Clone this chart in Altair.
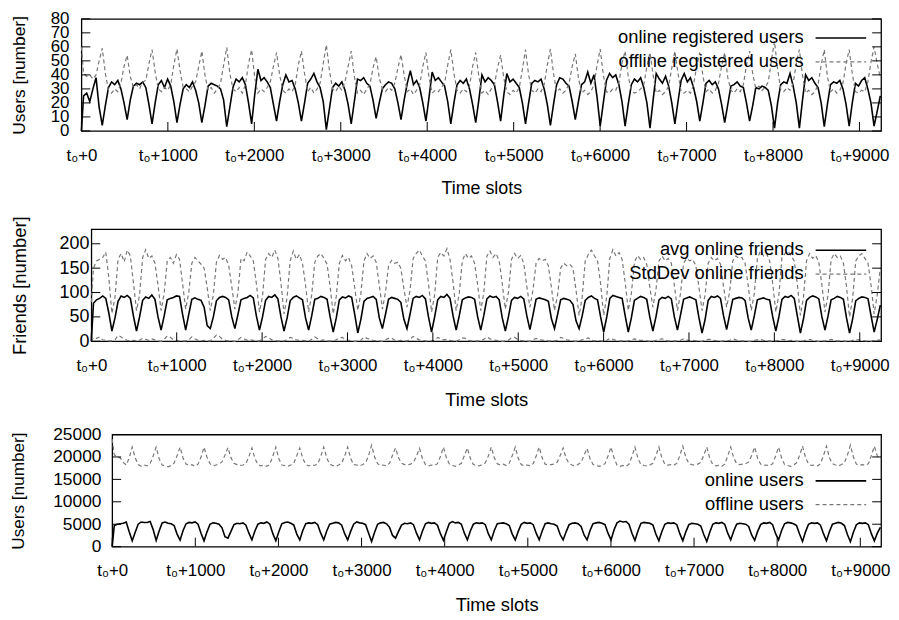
import altair as alt
import pandas as pd

FONT = "Liberation Sans, Arial, Helvetica, sans-serif"

# sampling grid of the time axis (time slots)
T = [0] + [25 + 36 * j for j in range(257)]

XTICKS = [0, 1000, 2000, 3000, 4000, 5000, 6000, 7000, 8000, 9000]

# ---------------- panel 1: registered users ----------------
P1_NAMES = ["online registered users", "offline registered users"]
P1_ONLINE = [
    0, 25, 27, 21, 30, 38, 17,
    4, 18, 31, 35, 33, 36, 30, 20,
    8, 22, 32, 34, 33, 35, 31, 19,
    5, 20, 33, 36, 31, 37, 32, 21,
    6, 19, 30, 33, 31, 35, 29, 20,
    6, 18, 32, 34, 33, 32, 30, 22,
    3, 17, 31, 37, 35, 38, 33, 20,
    5, 26, 44, 36, 38, 35, 31, 19,
    7, 21, 33, 40, 35, 36, 30, 20,
    7, 20, 34, 37, 41, 35, 31, 21,
    1, 16, 31, 34, 32, 35, 29, 19,
    5, 21, 37, 36, 38, 34, 32, 22,
    9, 20, 30, 33, 35, 34, 30, 20,
    8, 22, 34, 43, 33, 36, 31, 20,
    7, 24, 42, 36, 38, 35, 32, 21,
    5, 20, 33, 36, 34, 37, 30, 19,
    6, 22, 40, 35, 38, 36, 33, 21,
    7, 25, 41, 35, 37, 34, 31, 20,
    5, 20, 34, 36, 35, 37, 30, 19,
    4, 19, 33, 38, 37, 34, 32, 21,
    8, 21, 33, 35, 42, 34, 40, 24,
    3.5, 20, 36, 41, 38, 40, 33, 21,
    3.5, 19, 33, 37, 35, 38, 31, 20,
    2, 22, 41, 37, 34, 39, 32, 20,
    5, 21, 36, 41, 35, 38, 31, 21,
    7, 20, 34, 36, 33, 35, 30, 19,
    6, 19, 32, 33, 35, 32, 31, 20,
    7, 18, 31, 30, 32, 31, 29, 18,
    2, 20, 33, 35, 34, 41, 32, 20,
    2, 22, 40, 36, 38, 34, 31, 20,
    3, 19, 33, 35, 34, 36, 30, 19,
    3.5, 20, 34, 32, 36, 38, 30, 20,
    3.5, 14, 25,
]
P1_OFFLINE = [
    60, 41, 39, 40, 37, 40, 50,
    59, 41, 29, 27, 30, 28, 34, 46,
    54, 39, 31, 33, 30, 35, 36, 48,
    58, 42, 30, 28, 31, 29, 33, 47,
    58.5, 43, 31, 30, 28, 32, 35, 46,
    57, 40, 29, 31, 27, 30, 34, 47,
    59.6, 41, 30, 28, 31, 27, 33, 48,
    58, 38, 27, 30, 28, 31, 35, 46,
    56, 40, 29, 27, 30, 28, 33, 47,
    57, 41, 28, 31, 27, 30, 34, 48,
    61.5, 43, 30, 28, 32, 29, 35, 46,
    57, 39, 27, 29, 26, 30, 33, 45,
    53, 38, 30, 28, 31, 29, 34, 45,
    54.5, 40, 28, 30, 26, 29, 33, 46,
    56, 38, 27, 29, 28, 31, 34, 47,
    58, 41, 29, 27, 30, 28, 32, 46,
    56, 39, 27, 29, 26, 30, 33, 45,
    54, 38, 28, 26, 29, 27, 31, 44,
    58, 40, 29, 27, 30, 28, 33, 47,
    58.5, 41, 28, 30, 27, 29, 34, 46,
    55, 38, 27, 29, 26, 28, 33, 47,
    58.5, 40, 28, 27, 30, 29, 34, 48,
    57, 39, 29, 27, 28, 30, 33, 46,
    56, 40, 27, 29, 26, 28, 32, 45,
    57, 41, 28, 27, 29, 27, 33, 46,
    56, 39, 28, 30, 27, 29, 34, 46,
    56, 38, 29, 27, 30, 28, 33, 47,
    57, 41, 30, 32, 29, 31, 35, 50,
    64, 44, 30, 28, 31, 29, 34, 48,
    58, 40, 27, 29, 26, 28, 33, 47,
    58, 39, 28, 30, 27, 29, 34, 48,
    58, 41, 28, 27, 29, 28, 35, 49,
    60, 48, 38,
]
P1_YTICKS = [0, 10, 20, 30, 40, 50, 60, 70, 80]

# ---------------- panel 2: friends ----------------
P2_NAMES = ["avg online friends", "StdDev online friends"]
P2_AVG = [
    0, 78, 85, 88, 93, 88, 58,
    21, 48, 82, 93, 90, 94, 88, 52,
    21, 50, 84, 91, 88, 95, 86, 50,
    23, 52, 85, 88, 90, 93, 92, 55,
    23, 55, 86, 89, 86, 84, 70, 32,
    26, 50, 83, 90, 92, 90, 85, 50,
    26, 55, 85, 88, 90, 94, 89, 52,
    23, 50, 84, 92, 90, 95, 87, 50,
    21, 48, 83, 90, 93, 89, 85, 48,
    23, 52, 86, 88, 92, 90, 86, 50,
    19, 48, 85, 91, 89, 93, 90, 55,
    17, 45, 82, 88, 90, 92, 86, 48,
    26, 55, 86, 90, 88, 86, 80, 45,
    26, 56, 88, 92, 90, 94, 87, 50,
    19, 50, 85, 92, 90, 96, 88, 52,
    23, 52, 85, 89, 91, 90, 86, 50,
    23, 53, 87, 93, 90, 92, 85, 48,
    21, 50, 84, 90, 88, 92, 87, 52,
    24, 54, 86, 89, 87, 85, 82, 46,
    26, 55, 85, 88, 86, 84, 76, 42,
    26, 52, 84, 90, 93, 88, 85, 50,
    19, 50, 88, 94, 92, 90, 88, 52,
    19, 48, 84, 88, 92, 90, 86, 50,
    21, 50, 85, 90, 88, 92, 87, 50,
    23, 54, 86, 89, 91, 88, 85, 48,
    17, 45, 84, 92, 90, 93, 88, 52,
    24, 55, 86, 88, 90, 89, 84, 48,
    23, 52, 85, 87, 89, 86, 85, 50,
    21, 50, 86, 92, 90, 94, 88, 52,
    17, 46, 84, 90, 93, 91, 87, 50,
    23, 52, 85, 88, 92, 90, 86, 48,
    17, 46, 83, 88, 91, 90, 87, 52,
    19, 45, 74,
]
P2_STD = [
    80, 150, 165, 168, 172, 183, 130,
    57, 90, 168, 180, 163, 187, 175, 120,
    63, 95, 172, 188, 170, 175, 160, 115,
    63, 98, 165, 172, 160, 178, 168, 118,
    66, 100, 160, 172, 165, 158, 150, 110,
    63, 95, 162, 176, 168, 172, 155, 112,
    66, 100, 170, 165, 183, 175, 165, 118,
    60, 92, 168, 180, 172, 187, 170, 120,
    56, 90, 165, 185, 168, 178, 160, 115,
    60, 95, 162, 175, 180, 170, 158, 112,
    56, 92, 160, 176, 165, 172, 155, 110,
    63, 98, 165, 180, 170, 175, 162, 115,
    66, 100, 155, 166, 160, 162, 150, 108,
    70, 105, 170, 180, 187, 175, 165, 118,
    60, 95, 172, 182, 175, 190, 168, 120,
    63, 98, 165, 180, 170, 175, 160, 115,
    63, 100, 175, 185, 172, 180, 165, 118,
    66, 100, 168, 180, 170, 176, 160, 112,
    70, 105, 160, 170, 165, 168, 155, 110,
    63, 95, 150, 160, 155, 158, 150, 105,
    53, 90, 165, 178, 187, 175, 165, 118,
    53, 92, 170, 188, 175, 182, 168, 120,
    63, 98, 162, 176, 168, 172, 158, 112,
    70, 105, 165, 175, 165, 170, 160, 115,
    63, 98, 160, 170, 165, 168, 155, 110,
    63, 95, 160, 172, 165, 170, 158, 112,
    70, 102, 165, 175, 170, 172, 160, 115,
    63, 98, 170, 185, 175, 180, 165, 118,
    60, 95, 172, 180, 185, 175, 165, 118,
    53, 90, 165, 180, 170, 176, 162, 115,
    60, 95, 168, 180, 172, 175, 160, 112,
    50, 88, 165, 175, 180, 170, 160, 115,
    56, 95, 150,
]
P2_LOW = [
    0, 8, 6, 9, 3, 2, 1,
    1, 3, 12, 9, 4, 2, 1, 2,
    1, 2, 6, 4, 2, 5, 3, 1,
    0, 4, 11, 8, 3, 2, 1, 1,
    1, 3, 9, 5, 2, 1, 2, 1,
    1, 5, 13, 10, 4, 2, 1, 1,
    0, 3, 8, 5, 2, 3, 2, 1,
    1, 4, 10, 7, 3, 2, 1, 1,
    1, 3, 8, 6, 3, 2, 2, 1,
    0, 4, 9, 5, 2, 3, 1, 1,
    1, 3, 7, 8, 3, 2, 1, 0,
    1, 2, 9, 6, 4, 2, 1, 1,
    0, 3, 6, 7, 2, 1, 2, 1,
    1, 4, 10, 6, 3, 2, 1, 0,
    1, 2, 8, 5, 3, 4, 2, 1,
    0, 3, 7, 6, 2, 1, 1, 1,
    1, 4, 9, 5, 3, 2, 1, 0,
    1, 2, 7, 8, 4, 2, 1, 1,
    0, 3, 6, 4, 2, 3, 1, 1,
    1, 2, 8, 6, 3, 2, 1, 0,
    1, 3, 5, 7, 2, 1, 2, 1,
    0, 2, 6, 4, 2, 1, 1, 0,
    1, 3, 5, 3, 2, 2, 1, 0,
    0, 2, 4, 5, 2, 1, 1, 1,
    1, 2, 5, 3, 1, 2, 1, 0,
    0, 3, 4, 4, 2, 1, 0, 1,
    1, 2, 5, 3, 2, 1, 1, 0,
    0, 2, 3, 4, 2, 1, 1, 0,
    1, 2, 4, 3, 1, 2, 1, 0,
    0, 1, 3, 4, 2, 1, 0, 1,
    1, 2, 4, 2, 1, 1, 1, 0,
    0, 2, 3, 3, 2, 1, 0, 0,
    1, 2, 3,
]
P2_YTICKS = [0, 50, 100, 150, 200]

# ---------------- panel 3: all users ----------------
P3_NAMES = ["online users", "offline users"]
P3_ONLINE = [
    0, 4700, 5000, 5100, 5200, 5500, 3300,
    1300, 3200, 5000, 5500, 5400, 5400, 5600, 3800,
    1400, 3500, 5300, 5500, 5200, 5100, 4700, 2800,
    1450, 3600, 5100, 5400, 5300, 5500, 5000, 3000,
    1300, 3300, 5000, 5300, 5200, 5000, 4200, 2200,
    1900, 3400, 4900, 5200, 5100, 5300, 4800, 3000,
    1500, 3500, 5000, 5300, 5200, 5500, 5000, 2900,
    1300, 3300, 5100, 5400, 5500, 5200, 4800, 2800,
    1500, 3600, 5100, 5300, 5200, 5400, 4900, 3000,
    1500, 3500, 5000, 5200, 5400, 5300, 4800, 2900,
    1500, 3400, 5000, 5500, 5300, 5200, 4900, 3000,
    1150, 3200, 5000, 5300, 5400, 5100, 4300, 2500,
    1900, 3400, 4800, 5200, 5100, 5300, 4900, 3000,
    1500, 3500, 5100, 5400, 5200, 5300, 4800, 2900,
    1400, 3400, 5200, 5600, 5300, 5400, 5000, 3000,
    1500, 3500, 5000, 5300, 5200, 5300, 4900, 2900,
    1500, 3600, 5100, 5200, 5300, 5100, 4700, 2800,
    1500, 3400, 5000, 5400, 5200, 5300, 4900, 3000,
    1500, 3500, 5100, 5300, 5100, 5000, 4600, 2700,
    1500, 3300, 4900, 5200, 5300, 5100, 4500, 2600,
    1500, 3600, 5100, 5300, 5400, 5200, 4900, 3000,
    1500, 3700, 5300, 5700, 5500, 5600, 5000, 3000,
    1400, 3500, 5200, 5400, 5300, 5200, 4800, 2800,
    1300, 3400, 5000, 5300, 5200, 5300, 4900, 2900,
    1300, 3300, 4900, 5200, 5100, 5000, 4600, 2700,
    1150, 3200, 5000, 5300, 5200, 5400, 5000, 3000,
    1500, 3500, 5000, 5200, 5100, 5000, 4500, 2600,
    1400, 3400, 4900, 5300, 5200, 5400, 4900, 2900,
    1500, 3600, 5100, 5400, 5300, 5100, 4700, 2800,
    1150, 3300, 5000, 5300, 5200, 5300, 4800, 2900,
    1300, 3400, 5000, 5200, 5400, 5200, 4700, 2700,
    1100, 3200, 4900, 5300, 5200, 5300, 4900, 2900,
    1300, 3000, 4300,
]
P3_OFFLINE = [
    24000, 20500, 20000, 19800, 18800, 18200, 19800,
    22200, 19800, 18300, 17900, 18200, 18000, 18500, 20200,
    22200, 19600, 18200, 18000, 17800, 18100, 18600, 20300,
    22200, 19700, 18400, 18100, 18300, 17900, 18400, 20000,
    22200, 19900, 18500, 18000, 18200, 18400, 18900, 20400,
    22100, 19800, 18600, 18300, 18100, 18200, 18500, 20100,
    22000, 19700, 18300, 18000, 18200, 17900, 18400, 20200,
    22200, 19600, 18200, 18100, 17900, 18200, 18600, 20300,
    22000, 19700, 18300, 18000, 18300, 18100, 18500, 20100,
    22200, 19800, 18400, 18100, 17900, 18200, 18600, 20200,
    22200, 19700, 18300, 18200, 18000, 18300, 18700, 20300,
    22600, 20000, 18500, 18100, 18200, 18000, 18600, 20400,
    22000, 19800, 18600, 18300, 18200, 18400, 18800, 20200,
    21900, 19600, 18300, 18000, 18200, 18100, 18500, 20100,
    22200, 19800, 18400, 18100, 17900, 18200, 18600, 20300,
    22000, 19700, 18300, 18200, 18000, 18300, 18700, 20200,
    22200, 19800, 18500, 18200, 18400, 18100, 18600, 20300,
    22200, 19700, 18300, 18000, 18200, 18000, 18500, 20200,
    22200, 19800, 18400, 18200, 18300, 18400, 18800, 20300,
    22000, 19700, 18500, 18200, 18000, 18300, 18800, 20400,
    21900, 19600, 18300, 18100, 17900, 18100, 18500, 20200,
    22200, 19800, 18200, 17900, 18100, 17900, 18400, 20100,
    22200, 19700, 18300, 18100, 18000, 18200, 18600, 20300,
    22200, 19800, 18400, 18200, 18300, 18100, 18600, 20300,
    22400, 19900, 18500, 18300, 18200, 18400, 18800, 20400,
    22200, 19700, 18300, 18000, 18100, 17900, 18400, 20200,
    22200, 19800, 18500, 18300, 18400, 18500, 18900, 20300,
    22200, 19700, 18400, 18100, 18200, 18000, 18500, 20200,
    22200, 19800, 18300, 18100, 17900, 18200, 18700, 20300,
    22400, 19900, 18400, 18100, 18200, 18000, 18500, 20300,
    22400, 19800, 18500, 18200, 18000, 18300, 18700, 20400,
    22600, 20000, 18400, 18100, 18300, 18100, 18500, 20300,
    22400, 20200, 19500,
]
P3_YTICKS = [0, 5000, 10000, 15000, 20000, 25000]

SOLID = {"color": "black", "strokeWidth": 1.6}
DASHED = {"color": "#777777", "strokeWidth": 1.2, "strokeDash": [4, 3]}
XMAX = 9250
H = 113


def make_panel(series, styles, legend_names, ytitle, ymax, yticks, W,
               ylab_size, ylab_pad, y_extent, ytitle_pad, ytitle_size,
               xtitle_size, legend_right, legend_base):
    df = pd.DataFrame({"t": T})
    for i, s in enumerate(series):
        df[f"s{i}"] = s
    xs = alt.Scale(domain=[0, XMAX], nice=False, zero=False)
    ys = alt.Scale(domain=[0, ymax], nice=False)
    xaxis = alt.Axis(values=XTICKS, labelExpr="'t\u2080+' + datum.value",
                     labelFontSize=17, labelPadding=16.5, minExtent=34, maxExtent=34,
                     titlePadding=15.5, titleFontSize=xtitle_size)
    yaxis = alt.Axis(values=yticks, format="d", labelFontSize=ylab_size,
                     labelPadding=ylab_pad, minExtent=y_extent, maxExtent=y_extent,
                     titlePadding=ytitle_pad, titleFontSize=ytitle_size)
    X = dict(scale=xs, axis=xaxis, title="Time slots")
    Y = dict(scale=ys, axis=yaxis, title=ytitle)
    layers = []
    for i, st in enumerate(styles):
        layers.append(
            alt.Chart(df).mark_line(**st).encode(
                x=alt.X("t:Q", **X), y=alt.Y(f"s{i}:Q", **Y))
        )
    xt = pd.DataFrame({"tick": XTICKS})
    layers.append(
        alt.Chart(xt).mark_rule(color="black", strokeWidth=1).encode(
            x=alt.X("tick:Q", **X), y=alt.value(H), y2=alt.value(H - 9))
    )
    yt = pd.DataFrame({"tick": yticks})
    for x1, x2 in [(0, 9), (W - 9, W)]:
        layers.append(
            alt.Chart(yt).mark_rule(color="black", strokeWidth=1).encode(
                y=alt.Y("tick:Q", **Y), x=alt.value(x1), x2=alt.value(x2))
        )
    for k, name in enumerate(legend_names):
        st = styles[k]
        base = legend_base + 24 * k
        ld = pd.DataFrame({"label": [name]})
        layers.append(
            alt.Chart(ld).mark_text(align="right", baseline="alphabetic", font=FONT,
                                    fontSize=18.5, color="black").encode(
                text="label:N", x=alt.value(legend_right), y=alt.value(base))
        )
        layers.append(
            alt.Chart(ld).mark_rule(**st).encode(
                x=alt.value(legend_right + 12), x2=alt.value(legend_right + 63),
                y=alt.value(base - 5))
        )
    panel = alt.layer(*layers).properties(width=W, height=H)
    spacer = alt.Chart(pd.DataFrame({"b": [0]})).mark_rule(opacity=0).encode(
        x=alt.value(0), x2=alt.value(1), y=alt.value(50)
    ).properties(width=1, height=H,
                 view=alt.ViewBackground(stroke="transparent", strokeWidth=0))
    return alt.hconcat(spacer, panel, spacing=0)


p1 = make_panel([P1_ONLINE, P1_OFFLINE], [SOLID, DASHED], P1_NAMES,
                "Users [number]", 80, P1_YTICKS, 806,
                17, 12.5, 31.5, 22.3, 17.5, 18, 728, 24.3)
p2 = make_panel([P2_AVG, P2_STD, P2_LOW], [SOLID, DASHED, DASHED], P2_NAMES,
                "Friends [number]", 230, P2_YTICKS, 796,
                18, 2.5, 32.5, 30.3, 18.5, 18.5, 718, 26.3)
p3 = make_panel([P3_ONLINE, P3_OFFLINE], [SOLID, DASHED], P3_NAMES,
                "Users [number]", 25000, P3_YTICKS, 775,
                17.5, 11.3, 60, 25, 17.3, 18.5, 697, 51.7)

chart = alt.vconcat(p1, p2, p3, spacing=15).properties(
    padding={"left": 0, "top": -1.5, "right": 0, "bottom": 0}
).configure_view(stroke="black", strokeWidth=1.3).configure_axis(
    labelFont=FONT, titleFont=FONT, labelColor="black", titleColor="black",
    titleFontWeight="normal", grid=False, domain=False, ticks=False, tickSize=0,
    labelOverlap=False, labelFlush=False,
)

chart.save("out.html", embed_options={"renderer": "svg", "actions": False})
